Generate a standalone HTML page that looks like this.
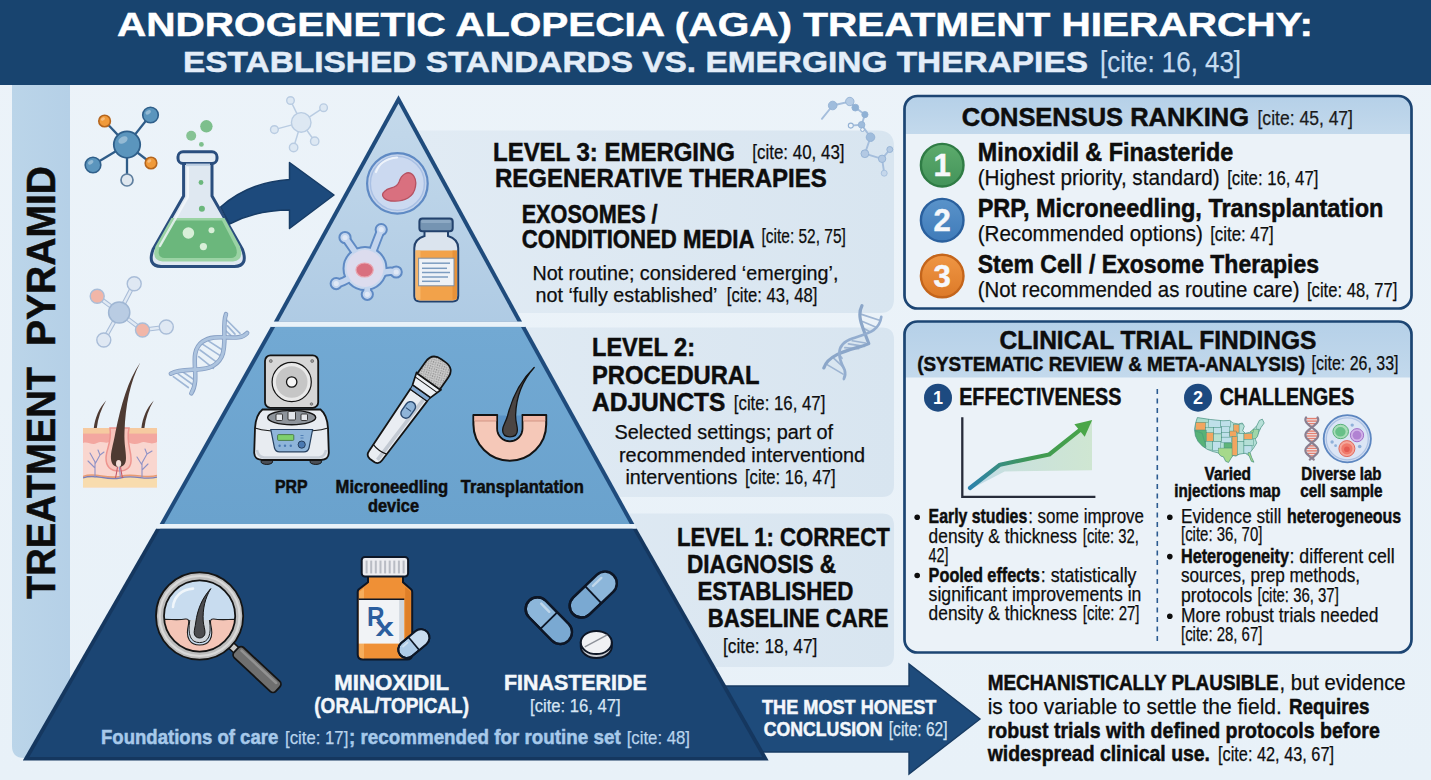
<!DOCTYPE html>
<html><head><meta charset="utf-8"><title>AGA Treatment Hierarchy</title>
<style>
html,body{margin:0;padding:0;background:#e9f1f8;}
body{width:1431px;height:780px;overflow:hidden;font-family:"Liberation Sans", sans-serif;}
svg{display:block;font-family:"Liberation Sans", sans-serif;}
text{font-family:"Liberation Sans", sans-serif;}
</style></head><body>
<svg width="1431" height="780" viewBox="0 0 1431 780">
<defs>
<linearGradient id="bgG" x1="0" y1="0" x2="0" y2="1"><stop offset="0" stop-color="#ecf3f9"/><stop offset="1" stop-color="#e8f1f8"/></linearGradient>
<linearGradient id="t3G" x1="0" y1="0" x2="0" y2="1"><stop offset="0" stop-color="#c4d9eb"/><stop offset="1" stop-color="#afcbe4"/></linearGradient>
<linearGradient id="t2G" x1="0" y1="0" x2="0" y2="1"><stop offset="0" stop-color="#72a9d3"/><stop offset="1" stop-color="#6aa2cd"/></linearGradient>
<linearGradient id="hdG" x1="0" y1="0" x2="0" y2="1"><stop offset="0" stop-color="#b5d0e8"/><stop offset="1" stop-color="#c3d9ec"/></linearGradient>
<linearGradient id="sbG" x1="0" y1="0" x2="1" y2="0"><stop offset="0" stop-color="#bbd5e9"/><stop offset="1" stop-color="#b5d0e7"/></linearGradient>
<clipPath id="pyrClip"><polygon points="398,94 21,761 771,761"/></clipPath>
<pattern id="speck" width="2.4" height="2.4" patternUnits="userSpaceOnUse"><rect width="2.4" height="2.4" fill="#cfcfcf"/><circle cx="0.6" cy="0.6" r="0.42" fill="#555"/><circle cx="1.8" cy="1.8" r="0.42" fill="#555"/></pattern>
<linearGradient id="lbG" gradientUnits="userSpaceOnUse" x1="420" y1="0" x2="894" y2="0"><stop offset="0" stop-color="#e1ebf4"/><stop offset="1" stop-color="#d8e5f0"/></linearGradient>
<linearGradient id="bg1" x1="0" y1="0" x2="0" y2="1"><stop offset="0" stop-color="#5dab6c"/><stop offset="1" stop-color="#43935a"/></linearGradient>
<linearGradient id="bg2" x1="0" y1="0" x2="0" y2="1"><stop offset="0" stop-color="#5a93ca"/><stop offset="1" stop-color="#3f7bb9"/></linearGradient>
<linearGradient id="bg3" x1="0" y1="0" x2="0" y2="1"><stop offset="0" stop-color="#ef9644"/><stop offset="1" stop-color="#dd7a28"/></linearGradient>
</defs>
<rect width="1431" height="780" fill="url(#bgG)"/>

<rect x="0" y="0" width="1431" height="85" fill="#18446f"/>
<text x="117.0" y="36.0" font-size="34" font-weight="bold" fill="#ffffff" stroke="#ffffff" stroke-width="0.5" textLength="1196.0" lengthAdjust="spacingAndGlyphs" >ANDROGENETIC ALOPECIA (AGA) TREATMENT HIERARCHY:</text>
<text x="183.0" y="72.0" font-size="30" font-weight="bold" fill="#e3edf8" stroke="#e3edf8" stroke-width="0.5" textLength="905.0" lengthAdjust="spacingAndGlyphs" >ESTABLISHED STANDARDS VS. EMERGING THERAPIES</text>
<text x="1100.0" y="72.0" font-size="29" font-weight="normal" fill="#c6dcf1" stroke="#c6dcf1" stroke-width="0.25" textLength="141.0" lengthAdjust="spacingAndGlyphs" >[cite: 16, 43]</text>
<path d="M12,85 H70 V758 H24 Q12,758 12,746 Z" fill="url(#sbG)"/>
<g transform="translate(55,599) rotate(-90)">
<text x="0.0" y="0.0" font-size="40" font-weight="bold" fill="#0c0c0c" stroke="#0c0c0c" stroke-width="0.5" textLength="232.0" lengthAdjust="spacingAndGlyphs" >TREATMENT</text>
<text x="253.0" y="0.0" font-size="40" font-weight="bold" fill="#0c0c0c" stroke="#0c0c0c" stroke-width="0.5" textLength="180.0" lengthAdjust="spacingAndGlyphs" >PYRAMID</text>
</g>
<path d="M400,130.5 H878 Q894,130.5 894,146.5 V299 Q894,313 880,313 H400 Z" fill="url(#lbG)"/>
<path d="M500,327.5 H882 Q894,327.5 894,339.5 V485 Q894,497 882,497 H500 Z" fill="url(#lbG)"/>
<path d="M600,513.5 H882 Q894,513.5 894,525.5 V655 Q894,667 882,667 H600 Z" fill="url(#lbG)"/>
<polygon points="640,686 909,686 909,664 980,719 909,774 909,752 640,752" fill="#1e4b7b" stroke="#173b63" stroke-width="1.4" stroke-linejoin="miter"/>
<polygon points="398.5,95.3 273.8,321.8 522.1,321.8" fill="#1f4b7c"/>
<polygon points="398.5,103.4 278.3,321.8 517.6,321.8" fill="url(#t3G)"/>
<polygon points="270.8,326.7 525.4,326.7 634.3,524 159.7,524" fill="#1f4b7c"/>
<polygon points="275.3,326.7 520.9,326.7 629.8,524 164.2,524" fill="url(#t2G)"/>
<polygon points="156.2,528.5 636.7,528.5 768.6,760.4 22.8,760.4" fill="#15375f"/>
<polygon points="160.4,528.5 632.5,528.5 762.3,757 29.3,757" fill="#1b4573"/>
<polygon points="273.8,321.8 522.1,321.8 525.4,326.7 270.8,326.7" fill="#e9f2f9"/>
<polygon points="159.7,524 634.3,524 636.7,528.5 156.2,528.5" fill="#e9f2f9"/>
<rect x="904.5" y="96" width="507" height="212.5" rx="13" ry="13" fill="#ebf2f8"/>
<path d="M904.5,134 V109 Q904.5,96 917.5,96 H1398.5 Q1411.5,96 1411.5,109 V134 Z" fill="url(#hdG)"/>
<rect x="904.5" y="96" width="507" height="212.5" rx="13" ry="13" fill="none" stroke="#1c4573" stroke-width="2.7"/>
<rect x="904.5" y="321.5" width="507" height="331" rx="13" ry="13" fill="#ebf2f8"/>
<path d="M904.5,377.5 V334.5 Q904.5,321.5 917.5,321.5 H1398.5 Q1411.5,321.5 1411.5,334.5 V377.5 Z" fill="url(#hdG)"/>
<rect x="904.5" y="321.5" width="507" height="331" rx="13" ry="13" fill="none" stroke="#1c4573" stroke-width="2.7"/>
<text x="961.8" y="125.8" font-size="26" font-weight="bold" fill="#0d0d0d" stroke="#0d0d0d" stroke-width="0.5" textLength="287.2" lengthAdjust="spacingAndGlyphs" >CONSENSUS RANKING</text>
<text x="1257.5" y="124.6" font-size="20.5" font-weight="normal" fill="#1a1a1a" stroke="#1a1a1a" stroke-width="0.25" textLength="95.5" lengthAdjust="spacingAndGlyphs" >[cite: 45, 47]</text>
<circle cx="942.2" cy="165.2" r="21.3" fill="url(#bg1)" stroke="#2f7c45" stroke-width="2.4"/>
<text x="942.2" y="176.4" font-size="31" font-weight="bold" fill="#f6f8fb" stroke="#f6f8fb" stroke-width="0.5" text-anchor="middle">1</text>
<circle cx="942.2" cy="220.2" r="21.3" fill="url(#bg2)" stroke="#2a609e" stroke-width="2.4"/>
<text x="942.2" y="231.4" font-size="31" font-weight="bold" fill="#f6f8fb" stroke="#f6f8fb" stroke-width="0.5" text-anchor="middle">2</text>
<circle cx="942.2" cy="276" r="21.3" fill="url(#bg3)" stroke="#c4651b" stroke-width="2.4"/>
<text x="942.2" y="287.2" font-size="31" font-weight="bold" fill="#f6f8fb" stroke="#f6f8fb" stroke-width="0.5" text-anchor="middle">3</text>
<text x="977.7" y="161.4" font-size="25" font-weight="bold" fill="#0d0d0d" stroke="#0d0d0d" stroke-width="0.5" textLength="255.6" lengthAdjust="spacingAndGlyphs" >Minoxidil &amp; Finasteride</text>
<text x="977.7" y="185.2" font-size="22" font-weight="normal" fill="#0d0d0d" stroke="#0d0d0d" stroke-width="0.25" textLength="242.0" lengthAdjust="spacingAndGlyphs" >(Highest priority, standard)</text>
<text x="1227.2" y="185.0" font-size="20.3" font-weight="normal" fill="#0d0d0d" stroke="#0d0d0d" stroke-width="0.25" textLength="91.2" lengthAdjust="spacingAndGlyphs" >[cite: 16, 47]</text>
<text x="977.7" y="217.3" font-size="25" font-weight="bold" fill="#0d0d0d" stroke="#0d0d0d" stroke-width="0.5" textLength="405.7" lengthAdjust="spacingAndGlyphs" >PRP, Microneedling, Transplantation</text>
<text x="977.7" y="240.8" font-size="22" font-weight="normal" fill="#0d0d0d" stroke="#0d0d0d" stroke-width="0.25" textLength="225.3" lengthAdjust="spacingAndGlyphs" >(Recommended options)</text>
<text x="1210.2" y="240.6" font-size="20.3" font-weight="normal" fill="#0d0d0d" stroke="#0d0d0d" stroke-width="0.25" textLength="63.5" lengthAdjust="spacingAndGlyphs" >[cite: 47]</text>
<text x="977.7" y="272.9" font-size="25" font-weight="bold" fill="#0d0d0d" stroke="#0d0d0d" stroke-width="0.5" textLength="341.3" lengthAdjust="spacingAndGlyphs" >Stem Cell / Exosome Therapies</text>
<text x="977.7" y="296.7" font-size="22" font-weight="normal" fill="#0d0d0d" stroke="#0d0d0d" stroke-width="0.25" textLength="321.8" lengthAdjust="spacingAndGlyphs" >(Not recommended as routine care)</text>
<text x="1307.0" y="296.5" font-size="20.3" font-weight="normal" fill="#0d0d0d" stroke="#0d0d0d" stroke-width="0.25" textLength="90.4" lengthAdjust="spacingAndGlyphs" >[cite: 48, 77]</text>
<text x="999.6" y="348.6" font-size="26" font-weight="bold" fill="#0d0d0d" stroke="#0d0d0d" stroke-width="0.5" textLength="316.9" lengthAdjust="spacingAndGlyphs" >CLINICAL TRIAL FINDINGS</text>
<text x="917.2" y="370.5" font-size="21" font-weight="bold" fill="#0d0d0d" stroke="#0d0d0d" stroke-width="0.5" textLength="387.8" lengthAdjust="spacingAndGlyphs" >(SYSTEMATIC REVIEW &amp; META-ANALYSIS)</text>
<text x="1311.6" y="370.3" font-size="20.3" font-weight="normal" fill="#0d0d0d" stroke="#0d0d0d" stroke-width="0.25" textLength="86.9" lengthAdjust="spacingAndGlyphs" >[cite: 26, 33]</text>
<circle cx="938" cy="397.7" r="14" fill="#1d4a80"/>
<text x="938" y="404.0" font-size="18" font-weight="bold" fill="#fff" text-anchor="middle">1</text>
<circle cx="1198" cy="397.7" r="14" fill="#1d4a80"/>
<text x="1198" y="404.0" font-size="18" font-weight="bold" fill="#fff" text-anchor="middle">2</text>
<text x="959.2" y="405.3" font-size="23.7" font-weight="bold" fill="#0d0d0d" stroke="#0d0d0d" stroke-width="0.5" textLength="162.2" lengthAdjust="spacingAndGlyphs" >EFFECTIVENESS</text>
<text x="1219.7" y="405.3" font-size="23.7" font-weight="bold" fill="#0d0d0d" stroke="#0d0d0d" stroke-width="0.5" textLength="134.6" lengthAdjust="spacingAndGlyphs" >CHALLENGES</text>
<line x1="1157.3" y1="389" x2="1157.3" y2="642" stroke="#2b5a90" stroke-width="1.6" stroke-dasharray="5,4.5"/>
<circle cx="917.2" cy="517.3" r="2.8" fill="#0d0d0d"/>
<text x="928.6" y="523.3" font-size="20.5" font-weight="bold" fill="#0d0d0d" stroke="#0d0d0d" stroke-width="0.5" textLength="98.6" lengthAdjust="spacingAndGlyphs" >Early studies</text>
<text x="1028.2" y="523.3" font-size="20.5" font-weight="normal" fill="#0d0d0d" stroke="#0d0d0d" stroke-width="0.25" textLength="115.8" lengthAdjust="spacingAndGlyphs" >: some improve</text>
<text x="928.6" y="543.0" font-size="20.5" font-weight="normal" fill="#0d0d0d" stroke="#0d0d0d" stroke-width="0.25" textLength="148.4" lengthAdjust="spacingAndGlyphs" >density &amp; thickness</text>
<text x="1082.8" y="543.0" font-size="19.7" font-weight="normal" fill="#0d0d0d" stroke="#0d0d0d" stroke-width="0.25" textLength="56.0" lengthAdjust="spacingAndGlyphs" >[cite: 32,</text>
<text x="928.6" y="561.8" font-size="19.7" font-weight="normal" fill="#0d0d0d" stroke="#0d0d0d" stroke-width="0.25" textLength="20.0" lengthAdjust="spacingAndGlyphs" >42]</text>
<circle cx="917.2" cy="575.5" r="2.8" fill="#0d0d0d"/>
<text x="928.6" y="581.5" font-size="20.5" font-weight="bold" fill="#0d0d0d" stroke="#0d0d0d" stroke-width="0.5" textLength="111.2" lengthAdjust="spacingAndGlyphs" >Pooled effects</text>
<text x="1040.8" y="581.5" font-size="20.5" font-weight="normal" fill="#0d0d0d" stroke="#0d0d0d" stroke-width="0.25" textLength="95.7" lengthAdjust="spacingAndGlyphs" >: statistically</text>
<text x="928.6" y="600.8" font-size="20.5" font-weight="normal" fill="#0d0d0d" stroke="#0d0d0d" stroke-width="0.25" textLength="212.8" lengthAdjust="spacingAndGlyphs" >significant improvements in</text>
<text x="928.6" y="620.4" font-size="20.5" font-weight="normal" fill="#0d0d0d" stroke="#0d0d0d" stroke-width="0.25" textLength="148.4" lengthAdjust="spacingAndGlyphs" >density &amp; thickness</text>
<text x="1082.8" y="620.4" font-size="19.7" font-weight="normal" fill="#0d0d0d" stroke="#0d0d0d" stroke-width="0.25" textLength="56.7" lengthAdjust="spacingAndGlyphs" >[cite: 27]</text>
<circle cx="1169.8" cy="517.3" r="2.8" fill="#0d0d0d"/>
<text x="1181.0" y="523.3" font-size="20.5" font-weight="normal" fill="#0d0d0d" stroke="#0d0d0d" stroke-width="0.25" textLength="100.3" lengthAdjust="spacingAndGlyphs" >Evidence still</text>
<text x="1287.0" y="523.3" font-size="20.5" font-weight="bold" fill="#0d0d0d" stroke="#0d0d0d" stroke-width="0.5" textLength="114.2" lengthAdjust="spacingAndGlyphs" >heterogeneous</text>
<text x="1181.0" y="541.0" font-size="19.7" font-weight="normal" fill="#0d0d0d" stroke="#0d0d0d" stroke-width="0.25" textLength="81.4" lengthAdjust="spacingAndGlyphs" >[cite: 36, 70]</text>
<circle cx="1169.8" cy="556.6" r="2.8" fill="#0d0d0d"/>
<text x="1181.0" y="562.6" font-size="20.5" font-weight="bold" fill="#0d0d0d" stroke="#0d0d0d" stroke-width="0.5" textLength="107.9" lengthAdjust="spacingAndGlyphs" >Heterogeneity</text>
<text x="1289.5" y="562.6" font-size="20.5" font-weight="normal" fill="#0d0d0d" stroke="#0d0d0d" stroke-width="0.25" textLength="105.2" lengthAdjust="spacingAndGlyphs" >: different cell</text>
<text x="1181.0" y="581.9" font-size="20.5" font-weight="normal" fill="#0d0d0d" stroke="#0d0d0d" stroke-width="0.25" textLength="179.0" lengthAdjust="spacingAndGlyphs" >sources, prep methods,</text>
<text x="1181.0" y="601.5" font-size="20.5" font-weight="normal" fill="#0d0d0d" stroke="#0d0d0d" stroke-width="0.25" textLength="71.2" lengthAdjust="spacingAndGlyphs" >protocols</text>
<text x="1257.5" y="601.5" font-size="19.7" font-weight="normal" fill="#0d0d0d" stroke="#0d0d0d" stroke-width="0.25" textLength="81.3" lengthAdjust="spacingAndGlyphs" >[cite: 36, 37]</text>
<circle cx="1169.8" cy="616.3" r="2.8" fill="#0d0d0d"/>
<text x="1181.0" y="622.3" font-size="20.5" font-weight="normal" fill="#0d0d0d" stroke="#0d0d0d" stroke-width="0.25" textLength="197.5" lengthAdjust="spacingAndGlyphs" >More robust trials needed</text>
<text x="1181.0" y="641.2" font-size="19.7" font-weight="normal" fill="#0d0d0d" stroke="#0d0d0d" stroke-width="0.25" textLength="81.4" lengthAdjust="spacingAndGlyphs" >[cite: 28, 67]</text>
<text x="1204.6" y="480.1" font-size="17.5" font-weight="bold" fill="#0d0d0d" stroke="#0d0d0d" stroke-width="0.5" textLength="46.4" lengthAdjust="spacingAndGlyphs" >Varied</text>
<text x="1174.3" y="497.1" font-size="17.5" font-weight="bold" fill="#0d0d0d" stroke="#0d0d0d" stroke-width="0.5" textLength="106.2" lengthAdjust="spacingAndGlyphs" >injections map</text>
<text x="1301.3" y="480.1" font-size="17.5" font-weight="bold" fill="#0d0d0d" stroke="#0d0d0d" stroke-width="0.5" textLength="80.2" lengthAdjust="spacingAndGlyphs" >Diverse lab</text>
<text x="1300.2" y="497.1" font-size="17.5" font-weight="bold" fill="#0d0d0d" stroke="#0d0d0d" stroke-width="0.5" textLength="82.4" lengthAdjust="spacingAndGlyphs" >cell sample</text>
<text x="987.7" y="690.3" font-size="22.5" font-weight="bold" fill="#0d0d0d" stroke="#0d0d0d" stroke-width="0.5" textLength="290.9" lengthAdjust="spacingAndGlyphs" >MECHANISTICALLY PLAUSIBLE</text>
<text x="1279.5" y="690.3" font-size="22.5" font-weight="normal" fill="#0d0d0d" stroke="#0d0d0d" stroke-width="0.25" textLength="126.1" lengthAdjust="spacingAndGlyphs" >, but evidence</text>
<text x="987.7" y="713.8" font-size="22.5" font-weight="normal" fill="#0d0d0d" stroke="#0d0d0d" stroke-width="0.25" textLength="294.2" lengthAdjust="spacingAndGlyphs" >is too variable to settle the field.</text>
<text x="1289.0" y="713.8" font-size="22.5" font-weight="bold" fill="#0d0d0d" stroke="#0d0d0d" stroke-width="0.5" textLength="80.5" lengthAdjust="spacingAndGlyphs" >Requires</text>
<text x="987.7" y="737.6" font-size="22.5" font-weight="bold" fill="#0d0d0d" stroke="#0d0d0d" stroke-width="0.5" textLength="392.1" lengthAdjust="spacingAndGlyphs" >robust trials with defined protocols before</text>
<text x="987.7" y="761.1" font-size="22.5" font-weight="bold" fill="#0d0d0d" stroke="#0d0d0d" stroke-width="0.5" textLength="222.3" lengthAdjust="spacingAndGlyphs" >widespread clinical use.</text>
<text x="1218.0" y="761.1" font-size="20" font-weight="normal" fill="#0d0d0d" stroke="#0d0d0d" stroke-width="0.25" textLength="116.0" lengthAdjust="spacingAndGlyphs" >[cite: 42, 43, 67]</text>
<text x="493.0" y="160.7" font-size="26.3" font-weight="bold" fill="#0d0d0d" stroke="#0d0d0d" stroke-width="0.5" textLength="242.0" lengthAdjust="spacingAndGlyphs" >LEVEL 3: EMERGING</text>
<text x="752.3" y="159.2" font-size="20.5" font-weight="normal" fill="#0d0d0d" stroke="#0d0d0d" stroke-width="0.25" textLength="92.2" lengthAdjust="spacingAndGlyphs" >[cite: 40, 43]</text>
<text x="495.0" y="186.9" font-size="26" font-weight="bold" fill="#0d0d0d" stroke="#0d0d0d" stroke-width="0.5" textLength="331.7" lengthAdjust="spacingAndGlyphs" >REGENERATIVE THERAPIES</text>
<text x="521.7" y="223.2" font-size="25.4" font-weight="bold" fill="#0d0d0d" stroke="#0d0d0d" stroke-width="0.5" textLength="135.9" lengthAdjust="spacingAndGlyphs" >EXOSOMES /</text>
<text x="521.7" y="248.4" font-size="25.4" font-weight="bold" fill="#0d0d0d" stroke="#0d0d0d" stroke-width="0.5" textLength="232.7" lengthAdjust="spacingAndGlyphs" >CONDITIONED MEDIA</text>
<text x="761.5" y="243.0" font-size="20.3" font-weight="normal" fill="#0d0d0d" stroke="#0d0d0d" stroke-width="0.25" textLength="84.3" lengthAdjust="spacingAndGlyphs" >[cite: 52, 75]</text>
<text x="532.4" y="279.7" font-size="21" font-weight="normal" fill="#0d0d0d" stroke="#0d0d0d" stroke-width="0.25" textLength="306.0" lengthAdjust="spacingAndGlyphs" >Not routine; considered ‘emerging’,</text>
<text x="535.5" y="302.2" font-size="21" font-weight="normal" fill="#0d0d0d" stroke="#0d0d0d" stroke-width="0.25" textLength="182.0" lengthAdjust="spacingAndGlyphs" >not ‘fully established’</text>
<text x="726.8" y="302.2" font-size="20.3" font-weight="normal" fill="#0d0d0d" stroke="#0d0d0d" stroke-width="0.25" textLength="90.7" lengthAdjust="spacingAndGlyphs" >[cite: 43, 48]</text>
<text x="592.0" y="356.2" font-size="26.3" font-weight="bold" fill="#0d0d0d" stroke="#0d0d0d" stroke-width="0.5" textLength="103.0" lengthAdjust="spacingAndGlyphs" >LEVEL 2:</text>
<text x="592.0" y="383.6" font-size="26.3" font-weight="bold" fill="#0d0d0d" stroke="#0d0d0d" stroke-width="0.5" textLength="167.5" lengthAdjust="spacingAndGlyphs" >PROCEDURAL</text>
<text x="592.0" y="410.5" font-size="26.3" font-weight="bold" fill="#0d0d0d" stroke="#0d0d0d" stroke-width="0.5" textLength="133.4" lengthAdjust="spacingAndGlyphs" >ADJUNCTS</text>
<text x="733.8" y="409.5" font-size="20.5" font-weight="normal" fill="#0d0d0d" stroke="#0d0d0d" stroke-width="0.25" textLength="91.6" lengthAdjust="spacingAndGlyphs" >[cite: 16, 47]</text>
<text x="614.4" y="439.0" font-size="20.5" font-weight="normal" fill="#0d0d0d" stroke="#0d0d0d" stroke-width="0.25" textLength="218.6" lengthAdjust="spacingAndGlyphs" >Selected settings; part of</text>
<text x="619.0" y="461.8" font-size="20.5" font-weight="normal" fill="#0d0d0d" stroke="#0d0d0d" stroke-width="0.25" textLength="246.0" lengthAdjust="spacingAndGlyphs" >recommended interventiond</text>
<text x="625.4" y="484.4" font-size="20.5" font-weight="normal" fill="#0d0d0d" stroke="#0d0d0d" stroke-width="0.25" textLength="112.0" lengthAdjust="spacingAndGlyphs" >interventions</text>
<text x="745.0" y="484.4" font-size="20.3" font-weight="normal" fill="#0d0d0d" stroke="#0d0d0d" stroke-width="0.25" textLength="90.6" lengthAdjust="spacingAndGlyphs" >[cite: 16, 47]</text>
<text x="677.0" y="546.4" font-size="26.3" font-weight="bold" fill="#0d0d0d" stroke="#0d0d0d" stroke-width="0.5" textLength="212.7" lengthAdjust="spacingAndGlyphs" >LEVEL 1: CORRECT</text>
<text x="687.0" y="573.3" font-size="26.3" font-weight="bold" fill="#0d0d0d" stroke="#0d0d0d" stroke-width="0.5" textLength="149.0" lengthAdjust="spacingAndGlyphs" >DIAGNOSIS &amp;</text>
<text x="697.4" y="600.3" font-size="26.3" font-weight="bold" fill="#0d0d0d" stroke="#0d0d0d" stroke-width="0.5" textLength="155.9" lengthAdjust="spacingAndGlyphs" >ESTABLISHED</text>
<text x="707.7" y="627.2" font-size="26.3" font-weight="bold" fill="#0d0d0d" stroke="#0d0d0d" stroke-width="0.5" textLength="180.8" lengthAdjust="spacingAndGlyphs" >BASELINE CARE</text>
<text x="723.0" y="652.8" font-size="20.5" font-weight="normal" fill="#0d0d0d" stroke="#0d0d0d" stroke-width="0.25" textLength="94.4" lengthAdjust="spacingAndGlyphs" >[cite: 18, 47]</text>
<text x="275.0" y="493.3" font-size="17.8" font-weight="bold" fill="#0d0d0d" stroke="#0d0d0d" stroke-width="0.5" textLength="32.6" lengthAdjust="spacingAndGlyphs" >PRP</text>
<text x="335.6" y="493.3" font-size="17.8" font-weight="bold" fill="#0d0d0d" stroke="#0d0d0d" stroke-width="0.5" textLength="112.6" lengthAdjust="spacingAndGlyphs" >Microneedling</text>
<text x="368.0" y="512.3" font-size="17.8" font-weight="bold" fill="#0d0d0d" stroke="#0d0d0d" stroke-width="0.5" textLength="51.0" lengthAdjust="spacingAndGlyphs" >device</text>
<text x="460.8" y="493.3" font-size="17.8" font-weight="bold" fill="#0d0d0d" stroke="#0d0d0d" stroke-width="0.5" textLength="123.0" lengthAdjust="spacingAndGlyphs" >Transplantation</text>
<text x="334.3" y="690.0" font-size="22.3" font-weight="bold" fill="#f3f7fb" stroke="#f3f7fb" stroke-width="0.5" textLength="114.7" lengthAdjust="spacingAndGlyphs" >MINOXIDIL</text>
<text x="314.3" y="712.7" font-size="22" font-weight="bold" fill="#f3f7fb" stroke="#f3f7fb" stroke-width="0.5" textLength="154.7" lengthAdjust="spacingAndGlyphs" >(ORAL/TOPICAL)</text>
<text x="504.0" y="690.0" font-size="22.3" font-weight="bold" fill="#f3f7fb" stroke="#f3f7fb" stroke-width="0.5" textLength="142.7" lengthAdjust="spacingAndGlyphs" >FINASTERIDE</text>
<text x="530.0" y="711.7" font-size="18.8" font-weight="normal" fill="#d5e4f3" stroke="#d5e4f3" stroke-width="0.25" textLength="90.7" lengthAdjust="spacingAndGlyphs" >[cite: 16, 47]</text>
<text x="101.0" y="744.0" font-size="20.5" font-weight="bold" fill="#a7c9ea" stroke="#a7c9ea" stroke-width="0.5" textLength="177.3" lengthAdjust="spacingAndGlyphs" >Foundations of care</text>
<text x="285.0" y="744.0" font-size="19" font-weight="normal" fill="#b8d3ec" stroke="#b8d3ec" stroke-width="0.25" textLength="63.3" lengthAdjust="spacingAndGlyphs" >[cite: 17]</text>
<text x="349.0" y="744.0" font-size="20.5" font-weight="bold" fill="#a7c9ea" stroke="#a7c9ea" stroke-width="0.5" textLength="271.7" lengthAdjust="spacingAndGlyphs" >; recommended for routine set</text>
<text x="626.7" y="744.0" font-size="19" font-weight="normal" fill="#b8d3ec" stroke="#b8d3ec" stroke-width="0.25" textLength="63.3" lengthAdjust="spacingAndGlyphs" >[cite: 48]</text>
<text x="762.0" y="714.0" font-size="19.5" font-weight="bold" fill="#f3f7fb" stroke="#f3f7fb" stroke-width="0.5" textLength="174.3" lengthAdjust="spacingAndGlyphs" >THE MOST HONEST</text>
<text x="763.8" y="735.9" font-size="19.5" font-weight="bold" fill="#f3f7fb" stroke="#f3f7fb" stroke-width="0.5" textLength="118.8" lengthAdjust="spacingAndGlyphs" >CONCLUSION</text>
<text x="888.8" y="735.9" font-size="20.3" font-weight="normal" fill="#d5e4f3" stroke="#d5e4f3" stroke-width="0.25" textLength="58.7" lengthAdjust="spacingAndGlyphs" >[cite: 62]</text>
<g stroke="#2f5c88" stroke-width="2.3" fill="none">
<line x1="127" y1="144.6" x2="104.6" y2="121"/>
<line x1="127" y1="144.6" x2="150.5" y2="115"/>
<line x1="127" y1="144.6" x2="151" y2="163"/>
<line x1="127" y1="144.6" x2="93" y2="165"/>
<line x1="127" y1="144.6" x2="127" y2="180"/>
</g>
<circle cx="127" cy="144.6" r="13.2" fill="#5b95bd" stroke="#2f5f8a" stroke-width="1.8"/>
<ellipse cx="123.0" cy="140.0" rx="5.0" ry="3.3" fill="#ffffff" opacity="0.35" transform="rotate(-30 123.0 140.0)"/>
<circle cx="104.6" cy="121" r="5.8" fill="#f09a3a" stroke="#b5651d" stroke-width="1.6"/>
<ellipse cx="102.9" cy="119.0" rx="2.2" ry="1.4" fill="#ffffff" opacity="0.35" transform="rotate(-30 102.9 119.0)"/>
<circle cx="150.5" cy="115" r="7.8" fill="#5b95bd" stroke="#2f5f8a" stroke-width="1.6"/>
<ellipse cx="148.2" cy="112.3" rx="3.0" ry="1.9" fill="#ffffff" opacity="0.35" transform="rotate(-30 148.2 112.3)"/>
<circle cx="151" cy="163" r="5.8" fill="#f09a3a" stroke="#b5651d" stroke-width="1.6"/>
<ellipse cx="149.3" cy="161.0" rx="2.2" ry="1.4" fill="#ffffff" opacity="0.35" transform="rotate(-30 149.3 161.0)"/>
<circle cx="93" cy="165" r="7.8" fill="#5b95bd" stroke="#2f5f8a" stroke-width="1.6"/>
<ellipse cx="90.7" cy="162.3" rx="3.0" ry="1.9" fill="#ffffff" opacity="0.35" transform="rotate(-30 90.7 162.3)"/>
<circle cx="127" cy="180" r="6" fill="#dfe7ef" stroke="#5f7f9f" stroke-width="1.7"/>
<g stroke="#b9cce2" stroke-width="1.5" fill="none">
<line x1="301.2" y1="122.4" x2="290.5" y2="100.5"/>
<line x1="301.2" y1="122.4" x2="323.6" y2="107.7"/>
<line x1="301.2" y1="122.4" x2="274.4" y2="129.6"/>
<line x1="301.2" y1="122.4" x2="314.7" y2="141.2"/>
<line x1="301.2" y1="122.4" x2="293.6" y2="147.5"/>
</g>
<g fill="#dde8f3" stroke="#b9cce2" stroke-width="1.4">
<circle cx="301.2" cy="122.4" r="9.8"/>
<circle cx="290.5" cy="100.5" r="3.8"/>
<circle cx="323.6" cy="107.7" r="3.8"/>
<circle cx="274.4" cy="129.6" r="3.9"/>
<circle cx="314.7" cy="141.2" r="4.2"/>
<circle cx="293.6" cy="147.5" r="4.2"/>
</g>
<g stroke="#a9bdd8" stroke-width="4.6" fill="none" stroke-linecap="round">
<line x1="119.2" y1="312.5" x2="134.2" y2="283.8"/>
<line x1="119.2" y1="312.5" x2="97.2" y2="296.2"/>
<line x1="119.2" y1="312.5" x2="142.5" y2="330"/>
<line x1="119.2" y1="312.5" x2="103.8" y2="340"/>
<line x1="142.5" y1="330" x2="166.3" y2="327"/>
</g><g stroke="#e1eaf4" stroke-width="2.4" fill="none" stroke-linecap="round">
<line x1="119.2" y1="312.5" x2="134.2" y2="283.8"/>
<line x1="119.2" y1="312.5" x2="97.2" y2="296.2"/>
<line x1="119.2" y1="312.5" x2="142.5" y2="330"/>
<line x1="119.2" y1="312.5" x2="103.8" y2="340"/>
<line x1="142.5" y1="330" x2="166.3" y2="327"/>
</g>
<circle cx="119.2" cy="312.5" r="10.6" fill="#b9cce3" stroke="#9fb6d3" stroke-width="1.5"/>
<circle cx="134.2" cy="283.8" r="7" fill="#dfe8f3" stroke="#a9bdd8" stroke-width="1.4"/>
<circle cx="97.2" cy="296.2" r="7" fill="#f1b6a8" stroke="#a9bdd8" stroke-width="1.4"/>
<circle cx="142.5" cy="330" r="7" fill="#f1b6a8" stroke="#a9bdd8" stroke-width="1.4"/>
<circle cx="166.3" cy="327" r="7" fill="#dfe8f3" stroke="#a9bdd8" stroke-width="1.4"/>
<circle cx="103.8" cy="340" r="7" fill="#dfe8f3" stroke="#a9bdd8" stroke-width="1.4"/>
<g transform="translate(80,270) scale(0.16667)" fill="none" stroke-linecap="round">
<g stroke="#9fb7d6" stroke-width="10">
<line x1="560" y1="640" x2="650" y2="705"/>
<line x1="590" y1="625" x2="680" y2="690"/>
<line x1="618" y1="612" x2="690" y2="662"/>
<line x1="712" y1="520" x2="800" y2="590"/>
<line x1="720" y1="480" x2="830" y2="560"/>
<line x1="735" y1="445" x2="850" y2="520"/>
<line x1="770" y1="425" x2="855" y2="480"/>
<line x1="880" y1="300" x2="960" y2="380"/>
<line x1="885" y1="335" x2="930" y2="385"/>
<line x1="875" y1="365" x2="905" y2="392"/>
</g>
<path d="M545,622 C640,570 790,640 850,520 C885,450 850,330 876,265" stroke="#869fc4" stroke-width="27"/>
<path d="M668,740 C730,640 640,500 735,430 C820,370 950,440 1003,378" stroke="#869fc4" stroke-width="27"/>
<path d="M545,622 C640,570 790,640 850,520 C885,450 850,330 876,265" stroke="#adc4df" stroke-width="17"/>
<path d="M668,740 C730,640 640,500 735,430 C820,370 950,440 1003,378" stroke="#adc4df" stroke-width="17"/>
</g>
<g>
<circle cx="206.4" cy="126.3" r="6.2" fill="#7dbf8c"/><circle cx="191.2" cy="135.7" r="5" fill="#86c394"/><circle cx="201.4" cy="144.4" r="2.4" fill="#7dbf8c"/>
<path d="M183.6,163 V196 L153,249.5 Q147,266 161,266.5 H234.5 Q248.5,266 242.5,249.5 L212,196 V163 Z" fill="#dfe8f1" stroke="#2a4e7e" stroke-width="3" stroke-linejoin="round"/>
<path d="M171.5,218 H224.5 L240,246.5 Q244.5,260.5 233,261.5 H162.5 Q151,260.5 155.5,246.5 Z" fill="#9bd3a4"/>
<path d="M174,220.5 H222 L236,247.5 Q239,257.5 231,258 H164.5 Q156.5,257.5 159.5,247.5 Z" fill="#6bb77c"/>
<path d="M187.8,168 V197 L160,246" stroke="#f4f8fb" stroke-width="2.4" fill="none" opacity="0.8" stroke-linecap="round"/>
<rect x="178" y="151.8" width="39" height="11.6" rx="5" ry="5" fill="#e4ecf4" stroke="#2a4e7e" stroke-width="3"/>
<rect x="186" y="163.6" width="24" height="2.2" fill="#b9cbe0"/>
<circle cx="201" cy="182.5" r="2.4" fill="#6bb77c"/><circle cx="201.9" cy="208.7" r="3" fill="#6bb77c"/>
<circle cx="188.4" cy="233" r="5.8" fill="#d8efd8"/><circle cx="211.5" cy="230.2" r="3" fill="#d8efd8"/><circle cx="203.4" cy="246.6" r="3.6" fill="#d8efd8"/>
</g>
<path d="M220.6,207 C240,190 265,181 289.5,179.5 L289.5,162.5 L334,195 L289.5,228.5 L289.5,210 C268,210 247,215 229.5,224 Z" fill="#1d4a7c" stroke="#173c66" stroke-width="1.5" stroke-linejoin="round"/>
<g>
<clipPath id="skinC"><rect x="83" y="428" width="74" height="59.5"/></clipPath>
<g clip-path="url(#skinC)">
<rect x="83" y="428" width="74" height="60" fill="#f9d6cf"/>
<path d="M83,428 H157 V442 C150,446 146,440 140,443 C135,445 130,444 127,441 L111,441 C106,445 102,440 97,443 C92,446 88,441 83,443 Z" fill="#f3a7a0"/>
<rect x="83" y="428" width="74" height="5.6" fill="#f6caa0"/>
<path d="M83,478 C95,473 105,481 120,478 C135,474 145,481 157,477 V488 H83 Z" fill="#f8dcae"/>
<path d="M83,476.5 C95,471.5 105,479.5 120,476.5 C135,472.5 145,479.5 157,475.5" stroke="#e99b72" stroke-width="1.6" fill="none"/>
<path d="M83,478 C95,473 105,481 120,478 C135,474 145,481 157,477" stroke="#7d7fb6" stroke-width="1.3" fill="none"/>
<g stroke="#8f92c6" stroke-width="1.1" fill="none" stroke-linecap="round"><path d="M95,477 V462 L90,453 M95,464 L100,455 L98,450 M95,468 L88,461 M100,455 L104,452"/><path d="M142,477 V463 L147,454 L145,449 M142,465 L137,457 M147,454 L152,451 M142,470 L148,464"/></g>
</g>
<path d="M110,428 C112,442 106,450 106,458 C106,468 112,471 119,471 C126,471 132,468 131,458 C131,450 126,442 129,428 Z" fill="#f7c4bc" stroke="#ee958f" stroke-width="1.5"/>
<path d="M117.5,462 C118,470 116,474 115.5,478 M120.5,462 C120,470 122,474 122.5,478" stroke="#c45a6a" stroke-width="1.1" fill="none"/>
<path d="M119,462 C119,470 121,474 120,478" stroke="#8f92c6" stroke-width="1.1" fill="none"/>
<path d="M140.3,362.5 C128,380 121,405 115.5,432 C113,446 110.5,452 111,459 C111.5,465 115,467 118.8,467 C123,467 126,464.5 126,458 C126,450 124,444 124.5,432 C125.5,405 130,382 140.3,362.5 Z" fill="#4e3a32"/>
<ellipse cx="118.6" cy="463.5" rx="2.6" ry="3.6" fill="#f2ded9"/>
<path d="M93.8,428 C95,418 99,408 106.2,400.5 C101,409 98,418 96.8,428 Z" fill="#4e3a32"/>
<path d="M141.4,428 C142.6,418 146.6,408 153.8,400.5 C148.6,409 145.6,418 144.4,428 Z" fill="#4e3a32"/>
</g>
<circle cx="397.4" cy="183.4" r="30.3" fill="#c3d3ec" stroke="#5f8ac4" stroke-width="2.2"/>
<circle cx="397.4" cy="183.4" r="27" fill="#cbd9f0" stroke="#a9c0e4" stroke-width="1.4"/>
<path d="M376,172 C379,163 387,158.5 397,157.5" stroke="#f2f6fc" stroke-width="2.2" fill="none" stroke-linecap="round" opacity="0.9"/>
<path d="M384.5,191.5 C389,186 396,190 399,182 C401.5,174 408,170.5 412.5,174.5 C418,180 416.5,193 408,198 C400,202.5 388,202 384,198 C381.5,195.5 382.5,193 384.5,191.5 Z" fill="#d9707f" stroke="#b55262" stroke-width="1.3"/>
<g stroke="#5f8ac4" stroke-width="9.4" stroke-linecap="round" fill="none">
<path d="M345,237.5 C351,246 355,252 360,259"/>
<path d="M381.2,229.6 C377,240 374,248 371,256"/>
<path d="M396.2,272 C390,270.5 386,271 381,273.5"/>
<path d="M336.2,283.6 C343,282.5 347,280 351,277"/>
<path d="M367.3,294.3 C367.5,289 367,286 366.5,283"/>
</g>
<circle cx="365" cy="268.5" r="21.5" fill="#c9d9ef" stroke="#5f8ac4" stroke-width="2"/>
<circle cx="345" cy="237.5" r="5.6" fill="#c3d5ee" stroke="#5f8ac4" stroke-width="2"/>
<circle cx="381.2" cy="229.6" r="5.6" fill="#c3d5ee" stroke="#5f8ac4" stroke-width="2"/>
<circle cx="396.2" cy="272" r="5.6" fill="#c3d5ee" stroke="#5f8ac4" stroke-width="2"/>
<circle cx="336.2" cy="283.6" r="5.6" fill="#c3d5ee" stroke="#5f8ac4" stroke-width="2"/>
<circle cx="367.3" cy="294.3" r="5.6" fill="#c3d5ee" stroke="#5f8ac4" stroke-width="2"/>
<g stroke="#c3d5ee" stroke-width="5.6" stroke-linecap="round" fill="none">
<path d="M345,237.5 C351,246 355,252 360,259"/>
<path d="M381.2,229.6 C377,240 374,248 371,256"/>
<path d="M396.2,272 C390,270.5 386,271 381,273.5"/>
<path d="M336.2,283.6 C343,282.5 347,280 351,277"/>
<path d="M367.3,294.3 C367.5,289 367,286 366.5,283"/>
</g>
<circle cx="365" cy="268.5" r="18.5" fill="#dcdcee"/>
<circle cx="345" cy="237.5" r="2.6" fill="#dfe8f6"/>
<circle cx="381.2" cy="229.6" r="2.6" fill="#dfe8f6"/>
<circle cx="396.2" cy="272" r="2.6" fill="#dfe8f6"/>
<circle cx="336.2" cy="283.6" r="2.6" fill="#dfe8f6"/>
<circle cx="367.3" cy="294.3" r="2.6" fill="#dfe8f6"/>
<ellipse cx="364.6" cy="270" rx="8.6" ry="7" fill="#d9707f" stroke="#e9a3ae" stroke-width="1.2"/>
<path d="M424.5,231 V236 C418,238 414.3,242 414.3,248 V296 Q414.3,301.5 420,301.5 H452.5 Q458.2,301.5 458.2,296 V248 C458.2,242 454.5,238 448,236 V231 Z" fill="#dbe4ee" stroke="#23426d" stroke-width="2"/>
<path d="M415.4,250.5 H457.1 V295.5 Q457.1,300.4 452.5,300.4 H420 Q415.4,300.4 415.4,295.5 Z" fill="#f2a24a"/>
<rect x="416" y="250.5" width="4.5" height="49" fill="#f7bb72" opacity="0.8"/>
<rect x="452.5" y="250.5" width="4.4" height="49" fill="#e58f36" opacity="0.8"/>
<rect x="418.6" y="258.2" width="35.4" height="27.6" fill="#eef2f7" stroke="#7f8fa3" stroke-width="1"/>
<g stroke="#7c9cc0" stroke-width="1.5"><line x1="422" y1="263.2" x2="450" y2="263.2"/><line x1="422" y1="268.3" x2="447" y2="268.3"/><line x1="422" y1="272.5" x2="450" y2="272.5"/><line x1="422" y1="277" x2="448" y2="277"/><line x1="422" y1="281.3" x2="440" y2="281.3"/></g>
<rect x="419.4" y="218.6" width="33.3" height="12.6" rx="3" ry="3" fill="#7594b2" stroke="#23426d" stroke-width="2"/>
<rect x="421" y="220" width="30" height="3" rx="1.5" fill="#93aec8" opacity="0.8"/>
<ellipse cx="266.8" cy="461.8" rx="5.8" ry="2.6" fill="#4a4f57" stroke="#141414" stroke-width="1"/><ellipse cx="315.8" cy="461.8" rx="5.8" ry="2.6" fill="#4a4f57" stroke="#141414" stroke-width="1"/>
<path d="M262.5,409.5 C258,413 255.5,420 255,428 L254.2,453 Q254.5,459.5 262,460 H321 Q328.5,459.5 328.8,453 L328,428 C327.5,420 325,413 320.5,409.5 Z" fill="#e8ecf1" stroke="#141414" stroke-width="1.8"/>
<path d="M255,428 C270,433 312,433 328,428" stroke="#1c1c1c" stroke-width="1.3" fill="none"/>
<path d="M257,450 Q258,457 264,457.5 H319 Q325,457 326,450" stroke="#c7ced7" stroke-width="2.5" fill="none"/>
<ellipse cx="291.7" cy="417.6" rx="24" ry="7.2" fill="#8e949b" stroke="#141414" stroke-width="1.4"/>
<g fill="#e3e6ea" stroke="#2a2a2a" stroke-width="0.9"><rect x="276" y="414" width="6.5" height="6.5" rx="1"/><rect x="288" y="411.5" width="7.5" height="8.5" rx="1"/><rect x="301" y="414" width="6.5" height="6.5" rx="1"/></g>
<path d="M270.8,429.5 H312.6 L309,448 Q308,451.8 304,451.8 H279.5 Q275.5,451.8 274.5,448 Z" fill="#8fb5da" stroke="#26405f" stroke-width="1.2"/>
<rect x="277.6" y="434.6" width="16.2" height="5.8" rx="1" fill="#7fd06c" stroke="#3c6b3a" stroke-width="0.8"/>
<circle cx="301.7" cy="444.6" r="3.6" fill="#4a79b2" stroke="#26405f" stroke-width="1"/>
<g fill="#4a79b2"><circle cx="279.6" cy="445.8" r="1.2"/><circle cx="285" cy="445.8" r="1.2"/><circle cx="290.8" cy="445.8" r="1.2"/></g>
<g stroke="#4a79b2" stroke-width="0.9"><line x1="300.5" y1="435.5" x2="303.5" y2="435.5"/><line x1="300.5" y1="438" x2="303.5" y2="438"/></g>
<rect x="265" y="355.4" width="53.2" height="52.4" rx="5.5" ry="5.5" fill="#d6d6d6" stroke="#141414" stroke-width="1.8"/>
<circle cx="291.7" cy="382" r="19.6" fill="#e9e9e9" stroke="#141414" stroke-width="1.2"/>
<circle cx="291.7" cy="382" r="15.8" fill="#c6c6c6"/>
<circle cx="291.7" cy="382" r="5.2" fill="#f5f5f5" stroke="#141414" stroke-width="1.3"/>
<g fill="#9a9a9a" stroke="#555" stroke-width="0.6"><circle cx="270.8" cy="361" r="1.5"/><circle cx="312.2" cy="361" r="1.5"/><circle cx="311.5" cy="404" r="1.3"/></g>
<g transform="translate(372.5,460) rotate(35.5)">
<path d="M-8,-5 Q-8,0 -3,0.6 H3 Q8,0 8,-5 L10.4,-80 H-10.4 Z" fill="#e9edf2" stroke="#141414" stroke-width="1.8" stroke-linejoin="round"/>
<path d="M4,-3 L6.4,-79" stroke="#c3cad3" stroke-width="3.6" fill="none"/>
<path d="M-8.2,-13 Q0,-10.5 8.2,-13" stroke="#141414" stroke-width="1.2" fill="none"/>
<rect x="-5" y="-70.5" width="10" height="18" rx="5" fill="#8fb4d8" stroke="#2b4a70" stroke-width="1.4"/>
<line x1="-3.2" y1="-62" x2="3.2" y2="-62" stroke="#2b4a70" stroke-width="1"/>
<path d="M-11,-84.5 H11 L10.4,-79.5 H-10.4 Z" fill="#7fa6cf" stroke="#141414" stroke-width="1.2"/>
<path d="M-11,-84.5 L-15,-97 H15 L11,-84.5 Z" fill="#edf0f4" stroke="#141414" stroke-width="1.7" stroke-linejoin="round"/>
<line x1="-13.6" y1="-92.5" x2="13.6" y2="-92.5" stroke="#141414" stroke-width="1"/>
<path d="M-13.8,-96.5 V-110.5 Q-13.8,-122 -2.5,-122 H2.5 Q13.8,-122 13.8,-110.5 V-96.5 Z" fill="url(#speck)" stroke="#141414" stroke-width="1.8"/>
</g>
<path d="M473.4,415 H497.2 V428.6 A12.6,12.6 0 0 0 522.4,428.6 V415 H546.2 V424.3 A36.4,36.4 0 0 1 473.4,424.3 Z" fill="#f5c8b8" stroke="#141414" stroke-width="2" stroke-linejoin="round"/>
<path d="M474.4,416 H496.2 V421 H474.4 Z M523.4,416 H545.2 V421 H523.4 Z" fill="#f2b9a8"/>
<path d="M474.4,421 H496.2 M523.4,421 H545.2" stroke="#c98c7c" stroke-width="0.8"/>
<path d="M498.2,415.5 V428.6 A11.6,11.6 0 0 0 521.4,428.6 V415.5 Z" fill="#5a93c6"/>
<path d="M534.2,367.5 C520,381 512,398 507.5,416 C505.5,423 502.6,425.5 502.6,430 C502.6,434.5 505.8,436.8 510,436.8 C514.2,436.8 517.4,434.5 517.4,430 C517.4,425 515.4,422 515.6,415 C516.2,396 523,380 534.2,367.5 Z" fill="#4b4543" stroke="#141414" stroke-width="1.3" stroke-linejoin="round"/>
<g transform="translate(199.6,616) rotate(43)">
<rect x="40" y="-3.6" width="13" height="7.2" fill="#c9c9c9" stroke="#141414" stroke-width="1.5"/>
<rect x="50" y="-6.9" width="57" height="13.8" rx="4" ry="4" fill="#6f6f6f" stroke="#141414" stroke-width="1.8"/>
<rect x="53" y="-4.6" width="50" height="2.6" rx="1.3" fill="#9a9a9a" opacity="0.8"/>
</g>
<circle cx="199.6" cy="616" r="43.6" fill="#bdbdbd" stroke="#141414" stroke-width="1.8"/>
<circle cx="199.6" cy="616" r="40" fill="none" stroke="#d9d9d9" stroke-width="2.2"/>
<clipPath id="lensC"><circle cx="199.6" cy="616" r="35.6"/></clipPath>
<g clip-path="url(#lensC)">
<rect x="160" y="576" width="80" height="80" fill="#c8dcef"/>
<path d="M160,619.5 C170,619 178,620.5 185.5,619 C189.5,618.5 189,622 188.2,626 C185.5,638 190,645 199.6,645 C209.2,645 213.7,638 211,626 C210.2,622 209.7,618.5 213.7,619 C221,620.5 230,619 240,619.5 V660 H160 Z" fill="#f4c5b7" stroke="#1c1c1c" stroke-width="1.1"/>
<path d="M189.8,620 C187.4,635 190.6,642.6 199.6,642.6 C208.6,642.6 211.8,635 209.4,620" fill="#d0d5db" stroke="#1c1c1c" stroke-width="1"/>
<path d="M210.8,588.6 C202,598 197.4,610 195.8,622 C195.2,627 194.2,629.5 194.2,632.6 C194.2,636 196.6,638 199.6,638 C202.6,638 205,636 205,632.6 C205,629 203.6,626 203.2,621 C202.6,609 205,598 210.8,588.6 Z" fill="#4c4c4f" stroke="#151515" stroke-width="1"/>
<path d="M173,607 C174,596 182,589.5 193,588.6" stroke="#f4f8fc" stroke-width="2.6" fill="none" stroke-linecap="round" opacity="0.9"/>
</g>
<circle cx="199.6" cy="616" r="35.6" fill="none" stroke="#141414" stroke-width="1.8"/>
<path d="M368,576 V582.2 L358.6,589.5 Q357.7,590.5 357.7,592 V654.5 Q357.7,659.6 363,659.6 H407 Q412.2,659.6 412.2,654.5 V592 Q412.2,590.5 411.3,589.5 L403,582.2 V576 Z" fill="#ef9036" stroke="#0d1626" stroke-width="2" stroke-linejoin="round"/>
<path d="M359.2,592 L364,588 V658.2 H363 Q359.2,658.2 359.2,654.5 Z" fill="#f6ad5c"/>
<path d="M405.2,587 L410.8,592 V654.5 Q410.8,658.2 407,658.2 H405.2 Z" fill="#df7f28"/>
<rect x="358.9" y="599.6" width="45.2" height="44" fill="#f1f3f6"/>
<rect x="399.2" y="599.6" width="4.9" height="44" fill="#cfd6de"/>
<line x1="358.7" y1="599.2" x2="404.3" y2="599.2" stroke="#0d1626" stroke-width="1.6"/>
<text x="367" y="626.4" font-size="27" font-weight="bold" fill="#2c5e9e" textLength="17.5" lengthAdjust="spacingAndGlyphs">R</text>
<text x="375.6" y="636.4" font-size="25.5" font-weight="bold" fill="#2c5e9e" textLength="18.4" lengthAdjust="spacingAndGlyphs">x</text>
<rect x="361.7" y="557" width="46.4" height="19.4" rx="3.2" ry="3.2" fill="#ececf0" stroke="#0d1626" stroke-width="2"/>
<g stroke="#b9bcc4" stroke-width="2"><line x1="366.6" y1="560.6" x2="366.6" y2="573.4"/><line x1="371.2" y1="560.6" x2="371.2" y2="573.4"/><line x1="375.8" y1="560.6" x2="375.8" y2="573.4"/><line x1="380.5" y1="560.6" x2="380.5" y2="573.4"/><line x1="385.1" y1="560.6" x2="385.1" y2="573.4"/><line x1="389.7" y1="560.6" x2="389.7" y2="573.4"/><line x1="394.3" y1="560.6" x2="394.3" y2="573.4"/><line x1="398.9" y1="560.6" x2="398.9" y2="573.4"/><line x1="403.6" y1="560.6" x2="403.6" y2="573.4"/></g>
<g transform="translate(413.8,643.6) rotate(-40)">
<rect x="-17.75" y="-8.5" width="35.5" height="17" rx="8.5" ry="8.5" fill="#aecbe8" stroke="#0d1626" stroke-width="2"/>
<path d="M0,-8.5 H9.25 A8.5,8.5 0 0 1 9.25,8.5 H0 Z" fill="#c9dcf0"/>
<path d="M-10.1,-4.7 H-4.2" stroke="#ffffff" stroke-width="1.7" stroke-linecap="round" opacity="0.45"/>
<rect x="-17.75" y="-8.5" width="35.5" height="17" rx="8.5" ry="8.5" fill="none" stroke="#0d1626" stroke-width="2"/>
<line x1="0" y1="-8.5" x2="0" y2="8.5" stroke="#0d1626" stroke-width="1.6"/>
</g>
<g transform="translate(548.8,620.6) rotate(45.5)">
<rect x="-28.0" y="-11.75" width="56" height="23.5" rx="11.75" ry="11.75" fill="#8cb6da" stroke="#0d1626" stroke-width="2.4"/>
<path d="M0,-11.75 H16.25 A11.75,11.75 0 0 1 16.25,11.75 H0 Z" fill="#7aa9d2"/>
<path d="M-17.4,-6.5 H-5.9" stroke="#ffffff" stroke-width="2.4" stroke-linecap="round" opacity="0.45"/>
<rect x="-28.0" y="-11.75" width="56" height="23.5" rx="11.75" ry="11.75" fill="none" stroke="#0d1626" stroke-width="2.4"/>
<line x1="0" y1="-11.75" x2="0" y2="11.75" stroke="#0d1626" stroke-width="1.9"/>
</g>
<g transform="translate(593.2,594.6) rotate(-43.5)">
<rect x="-28.0" y="-11.75" width="56" height="23.5" rx="11.75" ry="11.75" fill="#7aa9d2" stroke="#0d1626" stroke-width="2.4"/>
<path d="M0,-11.75 H16.25 A11.75,11.75 0 0 1 16.25,11.75 H0 Z" fill="#8cb6da"/>
<path d="M17.4,-6.5 H5.9" stroke="#ffffff" stroke-width="2.4" stroke-linecap="round" opacity="0.45"/>
<rect x="-28.0" y="-11.75" width="56" height="23.5" rx="11.75" ry="11.75" fill="none" stroke="#0d1626" stroke-width="2.4"/>
<line x1="0" y1="-11.75" x2="0" y2="11.75" stroke="#0d1626" stroke-width="1.9"/>
</g>
<path d="M580.8,642.5 V646.5 A15.5,11.5 0 0 0 611.8,646.5 V642.5 Z" fill="#c9ccd2" stroke="#0d1626" stroke-width="2"/>
<ellipse cx="596.3" cy="642.5" rx="15.5" ry="11.6" fill="#f0f1f4" stroke="#0d1626" stroke-width="2"/>
<line x1="584.8" y1="646.8" x2="607.3" y2="634.8" stroke="#8d9199" stroke-width="1.5"/>
<g stroke="#a5bedc" stroke-width="1.9" fill="none" stroke-linecap="round">
<line x1="821.9" y1="118.8" x2="832.7" y2="105.5"/>
<polyline points="832.7,105.5 849.8,101.5 855.3,107.6 864.9,114.6 861.6,124.8 870.5,137.2 864.9,153.7 882.1,158.8"/>
<line x1="861.6" y1="124.8" x2="850.8" y2="125.6"/><line x1="861.6" y1="124.8" x2="862.5" y2="129.4"/>
<line x1="882.1" y1="158.8" x2="889.8" y2="149.5"/><line x1="882.1" y1="158.8" x2="884.2" y2="173.2"/>
</g>
<circle cx="832.7" cy="105.5" r="4.3" fill="#9fbcdc" stroke="#93b1d4" stroke-width="0.9"/>
<circle cx="849.8" cy="101.5" r="4.2" fill="#b6cce5" stroke="#93b1d4" stroke-width="0.9"/>
<circle cx="855.3" cy="107.6" r="3.4" fill="#8fb1d5" stroke="#93b1d4" stroke-width="0.9"/>
<circle cx="864.9" cy="114.6" r="3.1" fill="#8fb1d5" stroke="#93b1d4" stroke-width="0.9"/>
<circle cx="861.6" cy="124.8" r="3.3" fill="#9fbcdc" stroke="#93b1d4" stroke-width="0.9"/>
<circle cx="870.5" cy="137.2" r="4.3" fill="#9fbcdc" stroke="#93b1d4" stroke-width="0.9"/>
<circle cx="864.9" cy="153.7" r="3.9" fill="#b3c9e3" stroke="#93b1d4" stroke-width="0.9"/>
<circle cx="882.1" cy="158.8" r="3.7" fill="#b3c9e3" stroke="#93b1d4" stroke-width="0.9"/>
<circle cx="850.8" cy="125.6" r="2.5" fill="#eef4fa" stroke="#93b1d4" stroke-width="1.1"/>
<circle cx="862.5" cy="129.6" r="1.9" fill="#eef4fa" stroke="#93b1d4" stroke-width="1"/>
<circle cx="889.8" cy="149.5" r="3" fill="#b3c9e3" stroke="#93b1d4" stroke-width="0.9"/>
<circle cx="884.2" cy="173.2" r="3" fill="#c5d7eb" stroke="#a5bedc" stroke-width="0.9"/>
<g transform="translate(810,300) scale(0.1282)" fill="none" stroke-linecap="round" opacity="0.95">
<g stroke="#9ab2d1" stroke-width="13">
<line x1="402" y1="112" x2="548" y2="160"/>
<line x1="410" y1="168" x2="515" y2="212"/>
<line x1="425" y1="225" x2="470" y2="250"/>
<line x1="300" y1="342" x2="425" y2="362"/>
<line x1="330" y1="318" x2="432" y2="335"/>
<line x1="272" y1="372" x2="380" y2="380"/>
<line x1="130" y1="502" x2="258" y2="578"/>
<line x1="182" y1="452" x2="262" y2="525"/>
<line x1="225" y1="420" x2="250" y2="455"/>
</g>
<path d="M405,44 C360,130 420,230 458,340 C380,380 150,400 108,530" stroke="#87a3c7" stroke-width="25" stroke-linejoin="round"/>
<path d="M556,132 C540,250 440,262 330,300 C180,350 230,470 270,545 C278,570 272,600 264,616" stroke="#90abce" stroke-width="21"/>
</g>
<defs><linearGradient id="lnG" gradientUnits="userSpaceOnUse" x1="970" y1="0" x2="1092" y2="0"><stop offset="0" stop-color="#2c82ac"/><stop offset="0.28" stop-color="#3a8f7a"/><stop offset="0.5" stop-color="#3f9853"/><stop offset="1" stop-color="#4aa648"/></linearGradient>
<linearGradient id="arG" gradientUnits="userSpaceOnUse" x1="970" y1="0" x2="1092" y2="0"><stop offset="0" stop-color="#bfd9ea"/><stop offset="0.35" stop-color="#c9e1dc"/><stop offset="1" stop-color="#cfe6d2"/></linearGradient></defs>
<polygon points="972,488.5 1000,465 1049.2,455 1092,421 1092,470.2 1004.6,471.4" fill="url(#arG)"/>
<path d="M962.3,417.3 V496.8 H1095.4" stroke="#272c3a" stroke-width="2.3" fill="none"/>
<polyline points="970,488 1000,464.7 1049.2,454.5 1082,428.4" stroke="url(#lnG)" stroke-width="4.2" fill="none" stroke-linecap="round" stroke-linejoin="round"/>
<polygon points="1092.2,420 1074.4,424.2 1084.7,436.8" fill="#4aa648"/>
<g transform="translate(1170,405) scale(0.16077)">
<clipPath id="usC"><polygon points="170,78 250,90 330,98 372,96 392,112 425,118 450,112 462,132 452,160 468,176 496,170 520,150 540,128 556,96 574,88 586,112 566,140 552,170 544,196 530,212 540,236 520,268 498,296 508,326 522,356 506,350 492,316 468,300 430,306 410,318 392,314 378,334 364,358 346,350 332,322 316,318 300,298 268,290 232,276 202,256 174,226 158,192 152,150 160,110"/></clipPath>
<g clip-path="url(#usC)">
<rect x="140" y="60" width="460" height="310" fill="#b4dfd6"/>
<rect x="140" y="60" width="100" height="50" fill="#a9dccb" stroke="#3f8a7a" stroke-width="2.5"/>
<rect x="240" y="80" width="75" height="60" fill="#bfe0ea" stroke="#3f8a7a" stroke-width="2.5"/>
<rect x="315" y="90" width="60" height="50" fill="#bfe0ea" stroke="#3f8a7a" stroke-width="2.5"/>
<rect x="160" y="108" width="62" height="48" fill="#f2a55f" stroke="#3f8a7a" stroke-width="2.5"/>
<rect x="222" y="140" width="50" height="40" fill="#b4dfd6" stroke="#3f8a7a" stroke-width="2.5"/>
<rect x="272" y="140" width="50" height="40" fill="#bfe0ea" stroke="#3f8a7a" stroke-width="2.5"/>
<rect x="322" y="135" width="48" height="35" fill="#bfe0ea" stroke="#3f8a7a" stroke-width="2.5"/>
<rect x="140" y="156" width="85" height="110" fill="#57b277" stroke="#3f8a7a" stroke-width="2.5"/>
<rect x="226" y="172" width="46" height="54" fill="#f2a55f" stroke="#3f8a7a" stroke-width="2.5"/>
<rect x="272" y="180" width="50" height="48" fill="#b7e0d0" stroke="#3f8a7a" stroke-width="2.5"/>
<rect x="322" y="170" width="50" height="30" fill="#bfe0ea" stroke="#3f8a7a" stroke-width="2.5"/>
<rect x="322" y="200" width="60" height="35" fill="#bfe0ea" stroke="#3f8a7a" stroke-width="2.5"/>
<rect x="222" y="226" width="44" height="54" fill="#a9dccb" stroke="#3f8a7a" stroke-width="2.5"/>
<rect x="266" y="228" width="50" height="56" fill="#bfe0ea" stroke="#3f8a7a" stroke-width="2.5"/>
<rect x="336" y="236" width="50" height="32" fill="#5fb57a" stroke="#3f8a7a" stroke-width="2.5"/>
<rect x="300" y="268" width="90" height="95" fill="#a6d98b" stroke="#3f8a7a" stroke-width="2.5"/>
<rect x="394" y="122" width="36" height="50" fill="#f2a55f" stroke="#3f8a7a" stroke-width="2.5"/>
<rect x="372" y="162" width="40" height="34" fill="#f2a55f" stroke="#3f8a7a" stroke-width="2.5"/>
<rect x="386" y="196" width="34" height="120" fill="#f2a55f" stroke="#3f8a7a" stroke-width="2.5"/>
<rect x="430" y="118" width="34" height="60" fill="#b4dfd6" stroke="#3f8a7a" stroke-width="2.5"/>
<rect x="420" y="178" width="40" height="50" fill="#c5e5dc" stroke="#3f8a7a" stroke-width="2.5"/>
<rect x="420" y="228" width="40" height="80" fill="#b4dfd6" stroke="#3f8a7a" stroke-width="2.5"/>
<rect x="460" y="178" width="52" height="36" fill="#f2a55f" stroke="#3f8a7a" stroke-width="2.5"/>
<rect x="460" y="214" width="60" height="40" fill="#b4dfd6" stroke="#3f8a7a" stroke-width="2.5"/>
<rect x="460" y="254" width="50" height="50" fill="#bfe0ea" stroke="#3f8a7a" stroke-width="2.5"/>
<rect x="486" y="296" width="40" height="70" fill="#a6d98b" stroke="#3f8a7a" stroke-width="2.5"/>
<rect x="512" y="150" width="40" height="60" fill="#9fd6a8" stroke="#3f8a7a" stroke-width="2.5"/>
<rect x="540" y="80" width="50" height="70" fill="#b7e0d8" stroke="#3f8a7a" stroke-width="2.5"/>
<rect x="500" y="120" width="20" height="50" fill="#a6d98b" stroke="#3f8a7a" stroke-width="2.5"/>
<path d="M140,156 L200,175 L225,262" fill="none" stroke="#3f8a7a" stroke-width="2.5"/>
</g>
<polygon points="170,78 250,90 330,98 372,96 392,112 425,118 450,112 462,132 452,160 468,176 496,170 520,150 540,128 556,96 574,88 586,112 566,140 552,170 544,196 530,212 540,236 520,268 498,296 508,326 522,356 506,350 492,316 468,300 430,306 410,318 392,314 378,334 364,358 346,350 332,322 316,318 300,298 268,290 232,276 202,256 174,226 158,192 152,150 160,110" fill="none" stroke="#3f8a7a" stroke-width="4" stroke-linejoin="round"/>
</g>
<g stroke="#e58070" stroke-width="1.5">
<line x1="1306.4" y1="418.6" x2="1317.2" y2="418.6"/>
<line x1="1306.5" y1="421.1" x2="1317.1" y2="421.1"/>
<line x1="1308.1" y1="423.6" x2="1315.5" y2="423.6"/>
<line x1="1310.9" y1="426.1" x2="1312.7" y2="426.1"/>
<line x1="1308.2" y1="431.1" x2="1315.4" y2="431.1"/>
<line x1="1306.5" y1="433.5" x2="1317.1" y2="433.5"/>
<line x1="1306.3" y1="436.0" x2="1317.3" y2="436.0"/>
<line x1="1307.7" y1="438.5" x2="1315.9" y2="438.5"/>
<line x1="1310.4" y1="441.0" x2="1313.2" y2="441.0"/>
<line x1="1308.7" y1="445.9" x2="1314.9" y2="445.9"/>
<line x1="1306.7" y1="448.4" x2="1316.9" y2="448.4"/>
<line x1="1306.2" y1="450.9" x2="1317.4" y2="450.9"/>
<line x1="1307.4" y1="453.4" x2="1316.2" y2="453.4"/>
<line x1="1309.8" y1="455.9" x2="1313.8" y2="455.9"/>
</g>
<polyline points="1317.5,417.4 1317.9,418.1 1318.1,418.8 1318.2,419.5 1318.2,420.2 1318.0,420.9 1317.7,421.6 1317.3,422.3 1316.8,423.0 1316.1,423.7 1315.4,424.4 1314.6,425.1 1313.8,425.8 1312.9,426.5 1312.0,427.2 1311.0,427.9 1310.1,428.7 1309.3,429.4 1308.5,430.1 1307.7,430.8 1307.0,431.5 1306.5,432.2 1306.0,432.9 1305.7,433.6 1305.5,434.3 1305.4,435.0 1305.5,435.7 1305.6,436.4 1306.0,437.1 1306.4,437.8 1306.9,438.5 1307.6,439.2 1308.3,439.9 1309.1,440.6 1310.0,441.3 1310.9,442.0 1311.8,442.7 1312.7,443.4 1313.6,444.1 1314.5,444.8 1315.3,445.5 1316.0,446.2 1316.7,446.9 1317.2,447.6 1317.6,448.3 1318.0,449.1 1318.1,449.8 1318.2,450.5 1318.1,451.2 1317.9,451.9 1317.6,452.6 1317.1,453.3 1316.6,454.0 1315.9,454.7 1315.1,455.4 1314.3,456.1 1313.5,456.8 1312.6,457.5 1311.6,458.2 1310.7,458.9 1309.8,459.6" stroke="#8a7f90" stroke-width="2.2" fill="none" stroke-linecap="round"/>
<polyline points="1306.1,417.4 1305.7,418.1 1305.5,418.8 1305.4,419.5 1305.4,420.2 1305.6,420.9 1305.9,421.6 1306.3,422.3 1306.8,423.0 1307.5,423.7 1308.2,424.4 1309.0,425.1 1309.8,425.8 1310.7,426.5 1311.6,427.2 1312.6,427.9 1313.5,428.7 1314.3,429.4 1315.1,430.1 1315.9,430.8 1316.6,431.5 1317.1,432.2 1317.6,432.9 1317.9,433.6 1318.1,434.3 1318.2,435.0 1318.1,435.7 1318.0,436.4 1317.6,437.1 1317.2,437.8 1316.7,438.5 1316.0,439.2 1315.3,439.9 1314.5,440.6 1313.6,441.3 1312.7,442.0 1311.8,442.7 1310.9,443.4 1310.0,444.1 1309.1,444.8 1308.3,445.5 1307.6,446.2 1306.9,446.9 1306.4,447.6 1306.0,448.3 1305.6,449.1 1305.5,449.8 1305.4,450.5 1305.5,451.2 1305.7,451.9 1306.0,452.6 1306.5,453.3 1307.0,454.0 1307.7,454.7 1308.5,455.4 1309.3,456.1 1310.1,456.8 1311.0,457.5 1312.0,458.2 1312.9,458.9 1313.8,459.6" stroke="#8a7f90" stroke-width="2.2" fill="none" stroke-linecap="round"/>
<circle cx="1347.3" cy="438.8" r="23.6" fill="#cfdcf1" stroke="#5c86c0" stroke-width="1.8"/>
<circle cx="1347.3" cy="438.8" r="21" fill="#dbe5f5" stroke="#aec3e4" stroke-width="1.2"/>
<ellipse cx="1340.7" cy="431.5" rx="7.8" ry="7.2" fill="#a9dcb9" stroke="#57b078" stroke-width="1"/><ellipse cx="1340.4" cy="431.8" rx="5.2" ry="4.8" fill="#67c088"/>
<circle cx="1357" cy="435.2" r="6.6" fill="#d2b4e8" stroke="#a06fc8" stroke-width="1"/><circle cx="1357" cy="435.2" r="4.4" fill="#b182d2"/>
<circle cx="1346.9" cy="448.6" r="8" fill="#f5a79b" stroke="#e0695c" stroke-width="1"/><circle cx="1346.9" cy="448.8" r="5.6" fill="#f07a6b"/><circle cx="1346.9" cy="449.2" r="2.8" fill="#e45b52"/>
<g fill="#8fb0d9"><circle cx="1352.2" cy="425.1" r="1.7"/><circle cx="1332.1" cy="442" r="1.7"/><circle cx="1335.6" cy="445.7" r="1.4"/><circle cx="1359.7" cy="446.5" r="1.8"/></g>
</svg></body></html>
